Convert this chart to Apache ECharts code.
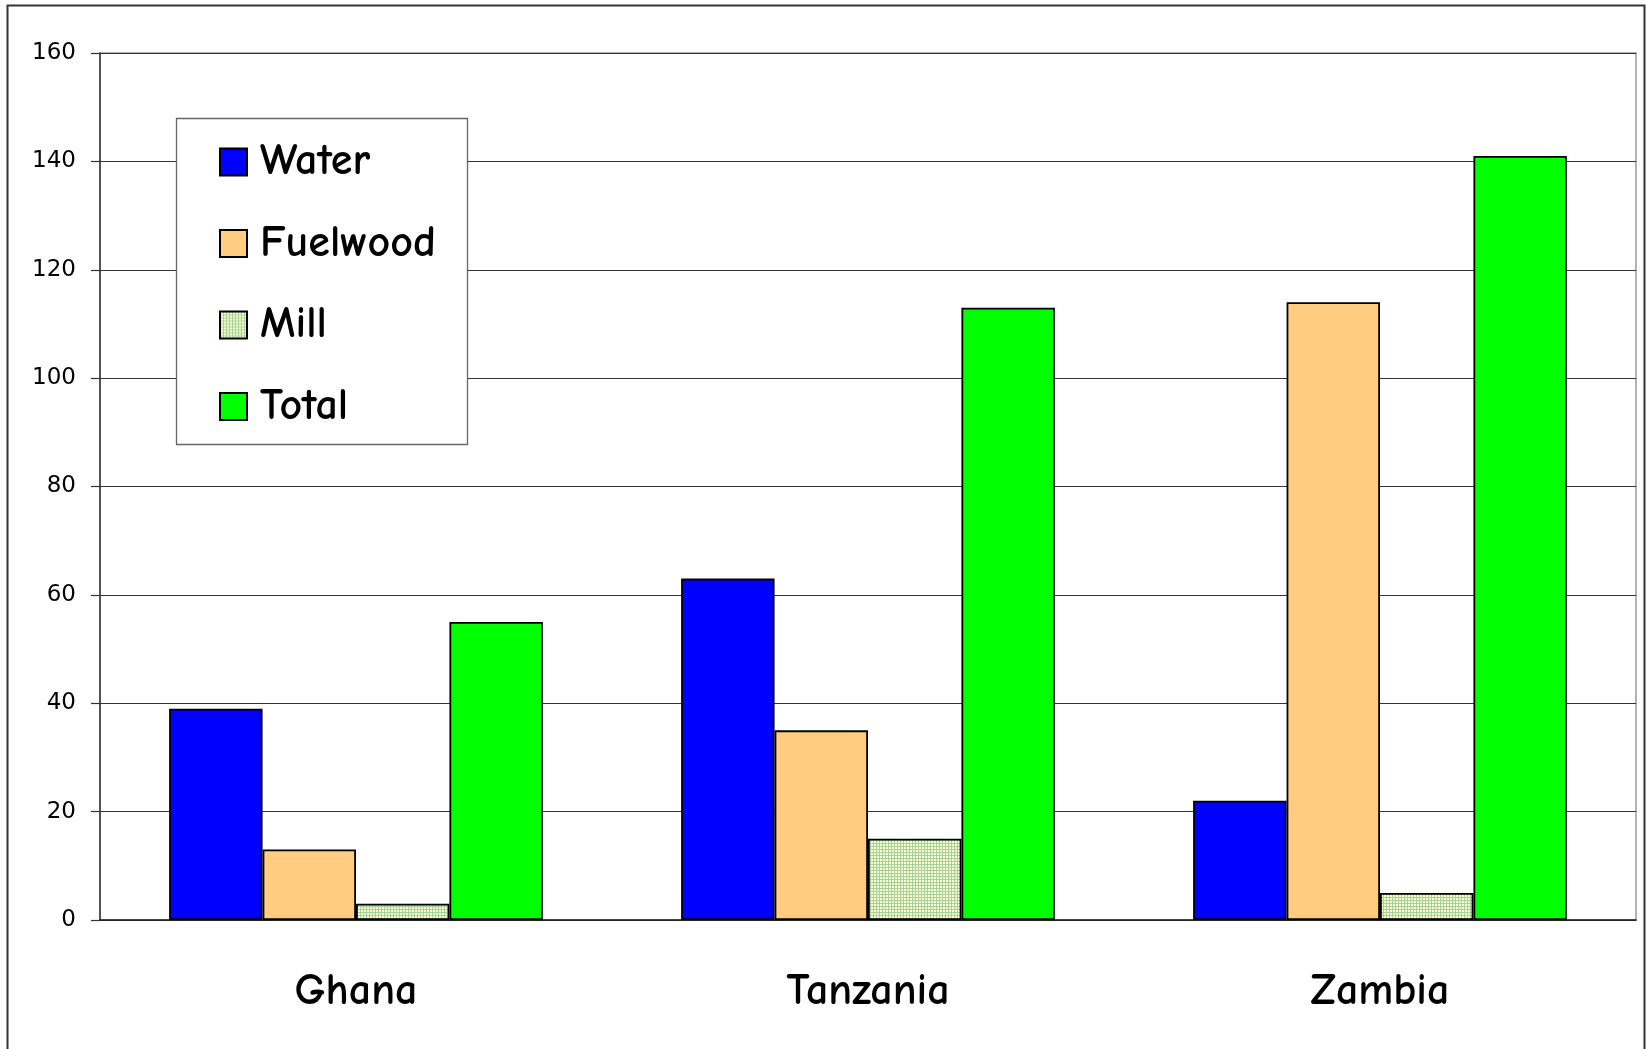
<!DOCTYPE html>
<html>
<head>
<meta charset="utf-8">
<script src="https://cdn.jsdelivr.net/npm/echarts@6/dist/echarts.min.js"></script>
<style>
  html, body { margin: 0; padding: 0; background: #fff; }
  #chart { width: 1646px; height: 1049px; }
</style>
</head>
<body>
<div id="chart"></div>
<script>
const countries = ['Ghana', 'Tanzania', 'Zambia'];
const seriesNames = ['Water', 'Fuelwood', 'Mill', 'Total'];
const water = [39, 63, 22];
const fuelwood = [13, 35, 114];
const mill = [3, 15, 5];
const total = [55, 113, 141];
const yTicks = [0, 20, 40, 60, 80, 100, 120, 140, 160];

const comic = "'Comic Sans MS', 'Comic Neue', 'DejaVu Sans', sans-serif";

// fine green grid on pale yellow used for the Mill bars
function gridPattern() {
  const c = document.createElement('canvas');
  c.width = 3; c.height = 3;
  const g = c.getContext('2d');
  g.fillStyle = '#ffffcc';
  g.fillRect(0, 0, 3, 3);
  g.fillStyle = '#a3d3a0';
  g.fillRect(0, 0, 3, 1);
  g.fillRect(0, 0, 1, 3);
  return { image: c, repeat: 'repeat' };
}

const fills = ['#0000ff', '#ffcc80', gridPattern(), '#00ff00'];
const values = [water, fuelwood, mill, total];

const chart = echarts.init(document.getElementById('chart'), null, { renderer: 'canvas' });

chart.setOption({
  animation: false,
  backgroundColor: '#ffffff',
  grid: {
    left: 100, top: 53, right: 10, bottom: 129,
    show: true, borderColor: '#9a9a9a', borderWidth: 1.5, backgroundColor: 'transparent'
  },
  graphic: [
    {
      type: 'rect', z: 0,
      shape: { x: 7.5, y: 5.5, width: 1637, height: 1070 },
      style: { fill: 'none', stroke: '#333', lineWidth: 2 }
    },
    {
      type: 'rect', z: 10,
      shape: { x: 176.5, y: 118.5, width: 291, height: 326 },
      style: { fill: '#ffffff', stroke: '#666', lineWidth: 1.3 }
    }
  ],
  legend: {
    z: 20,
    orient: 'vertical',
    left: 219, top: 140,
    padding: 0,
    itemWidth: 27, itemHeight: 27,
    itemGap: 37.5,
    icon: 'rect',
    data: seriesNames,
    textStyle: {
      fontFamily: comic, fontSize: 44, fontWeight: 'bold', color: '#000',
      padding: [0, 0, 0, 8]
    }
  },
  xAxis: {
    type: 'category',
    data: countries,
    axisLine: { lineStyle: { color: '#222', width: 1.5 } },
    axisTick: { length: 14, lineStyle: { color: '#333', width: 1.2 } },
    axisLabel: { margin: 50, fontFamily: comic, fontSize: 44, fontWeight: 'bold', color: '#000' }
  },
  yAxis: {
    type: 'value',
    min: yTicks[0], max: yTicks[yTicks.length - 1], interval: 20,
    axisLine: { show: true, lineStyle: { color: '#333', width: 1.5 } },
    axisTick: { show: true, length: 9, lineStyle: { color: '#333', width: 1.2 } },
    axisLabel: { margin: 24, fontFamily: "'DejaVu Sans', Verdana, sans-serif", fontSize: 23, color: '#000' },
    splitLine: { lineStyle: { color: '#333', width: 1 } }
  },
  series: seriesNames.map((name, i) => ({
    name: name,
    type: 'bar',
    data: values[i],
    barGap: '0%',
    barCategoryGap: '27%',
    itemStyle: { color: fills[i], borderColor: '#000', borderWidth: 1.8 }
  }))
});
</script>
</body>
</html>
